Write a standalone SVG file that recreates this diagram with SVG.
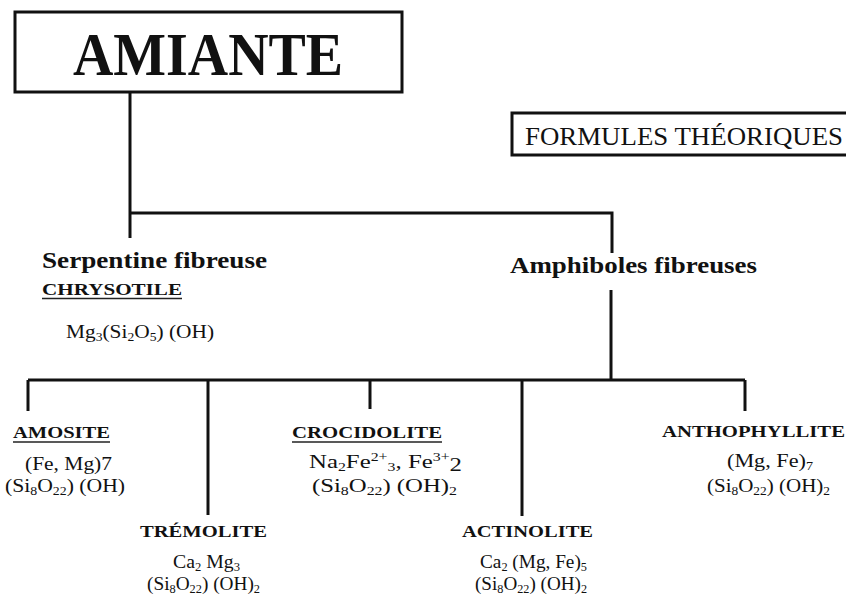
<svg xmlns="http://www.w3.org/2000/svg" width="846" height="599" viewBox="0 0 846 599">
<style>
  text { font-family: "Liberation Serif", "Times New Roman", serif; fill: #111; }
  .title { font-size: 62px; font-weight: bold; }
  .head { font-size: 23px; font-weight: bold; }
  .name { font-size: 17.5px; font-weight: bold; }
  .f { font-size: 18px; }
  .sub { font-size: 11.5px; }
  .box { fill: #fff; stroke: #111; stroke-width: 3; }
  .ul { stroke: #222; stroke-width: 1.5; }
  .conn { fill: none; stroke: #111; stroke-width: 3; }
</style>
<rect width="846" height="599" fill="#fff"/>

<g id="connectors">
  <path class="conn" d="M130 92 V238"/>
  <path class="conn" d="M130 213 H612 V253"/>
  <path class="conn" d="M611 290 V380"/>
  <path class="conn" d="M28 380 H745"/>
  <path class="conn" d="M28 380 V411"/>
  <path class="conn" d="M208 380 V515"/>
  <path class="conn" d="M370 380 V409"/>
  <path class="conn" d="M522 380 V516"/>
  <path class="conn" d="M745 380 V411"/>
</g>

<g id="amiante">
  <rect class="box" x="15" y="12" width="387" height="80"/>
  <text class="title" x="73" y="75" textLength="270" lengthAdjust="spacingAndGlyphs">AMIANTE</text>
</g>

<g id="formules">
  <rect class="box" x="512" y="113" width="345" height="42"/>
  <text x="525" y="145" style="font-size:26px" textLength="318" lengthAdjust="spacingAndGlyphs">FORMULES THÉORIQUES</text>
</g>

<g id="serpentine">
  <text class="head" x="42" y="268" textLength="225" lengthAdjust="spacingAndGlyphs">Serpentine fibreuse</text>
  <text class="name" x="42" y="295" textLength="140" lengthAdjust="spacingAndGlyphs">CHRYSOTILE</text>
  <line class="ul" x1="42" y1="298.5" x2="182" y2="298.5"/>
  <text class="f" x="66" y="338" textLength="148" lengthAdjust="spacingAndGlyphs">Mg<tspan class="sub" dy="3">3</tspan><tspan dy="-3">(Si</tspan><tspan class="sub" dy="3">2</tspan><tspan dy="-3">O</tspan><tspan class="sub" dy="3">5</tspan><tspan dy="-3">) (OH)</tspan></text>
</g>

<g id="amphiboles">
  <text class="head" x="510" y="273" textLength="247" lengthAdjust="spacingAndGlyphs">Amphiboles fibreuses</text>
</g>

<g id="amosite">
  <text class="name" x="13" y="438" textLength="97" lengthAdjust="spacingAndGlyphs">AMOSITE</text>
  <line class="ul" x1="13" y1="442" x2="110" y2="442"/>
  <text class="f" x="25" y="470" textLength="87" lengthAdjust="spacingAndGlyphs">(Fe, Mg)7</text>
  <text class="f" x="5" y="492" textLength="120" lengthAdjust="spacingAndGlyphs">(Si<tspan class="sub" dy="3">8</tspan><tspan dy="-3">O</tspan><tspan class="sub" dy="3">22</tspan><tspan dy="-3">) (OH)</tspan></text>
</g>

<g id="tremolite">
  <text class="name" x="140" y="537" textLength="127" lengthAdjust="spacingAndGlyphs">TRÉMOLITE</text>
  <text class="f" x="173" y="568" textLength="67" lengthAdjust="spacingAndGlyphs">Ca<tspan class="sub" dy="3">2</tspan><tspan dy="-3"> Mg</tspan><tspan class="sub" dy="3">3</tspan></text>
  <text class="f" x="147" y="590" textLength="113" lengthAdjust="spacingAndGlyphs">(Si<tspan class="sub" dy="3">8</tspan><tspan dy="-3">O</tspan><tspan class="sub" dy="3">22</tspan><tspan dy="-3">) (OH)</tspan><tspan class="sub" dy="3">2</tspan></text>
</g>

<g id="crocidolite">
  <text class="name" x="292" y="438" textLength="150" lengthAdjust="spacingAndGlyphs">CROCIDOLITE</text>
  <line class="ul" x1="292" y1="442" x2="442" y2="442"/>
  <text class="f" x="309" y="468" textLength="153" lengthAdjust="spacingAndGlyphs">Na<tspan class="sub" dy="3">2</tspan><tspan dy="-3">Fe</tspan><tspan class="sub" dy="-7">2+</tspan><tspan class="sub" dy="10">3</tspan><tspan dy="-3">, Fe</tspan><tspan class="sub" dy="-7">3+</tspan><tspan dy="10">2</tspan></text>
  <text class="f" x="312" y="492" textLength="145" lengthAdjust="spacingAndGlyphs">(Si<tspan class="sub" dy="3">8</tspan><tspan dy="-3">O</tspan><tspan class="sub" dy="3">22</tspan><tspan dy="-3">) (OH)</tspan><tspan class="sub" dy="3">2</tspan></text>
</g>

<g id="actinolite">
  <text class="name" x="462" y="537" textLength="131" lengthAdjust="spacingAndGlyphs">ACTINOLITE</text>
  <text class="f" x="480" y="568" textLength="107" lengthAdjust="spacingAndGlyphs">Ca<tspan class="sub" dy="3">2</tspan><tspan dy="-3"> (Mg, Fe)</tspan><tspan class="sub" dy="3">5</tspan></text>
  <text class="f" x="475" y="590" textLength="112" lengthAdjust="spacingAndGlyphs">(Si<tspan class="sub" dy="3">8</tspan><tspan dy="-3">O</tspan><tspan class="sub" dy="3">22</tspan><tspan dy="-3">) (OH)</tspan><tspan class="sub" dy="3">2</tspan></text>
</g>

<g id="anthophyllite">
  <text class="name" x="662" y="437" textLength="183" lengthAdjust="spacingAndGlyphs">ANTHOPHYLLITE</text>
  <text class="f" x="727" y="467" textLength="86" lengthAdjust="spacingAndGlyphs">(Mg, Fe)<tspan class="sub" dy="3">7</tspan></text>
  <text class="f" x="707" y="492" textLength="123" lengthAdjust="spacingAndGlyphs">(Si<tspan class="sub" dy="3">8</tspan><tspan dy="-3">O</tspan><tspan class="sub" dy="3">22</tspan><tspan dy="-3">) (OH)</tspan><tspan class="sub" dy="3">2</tspan></text>
</g>
</svg>
